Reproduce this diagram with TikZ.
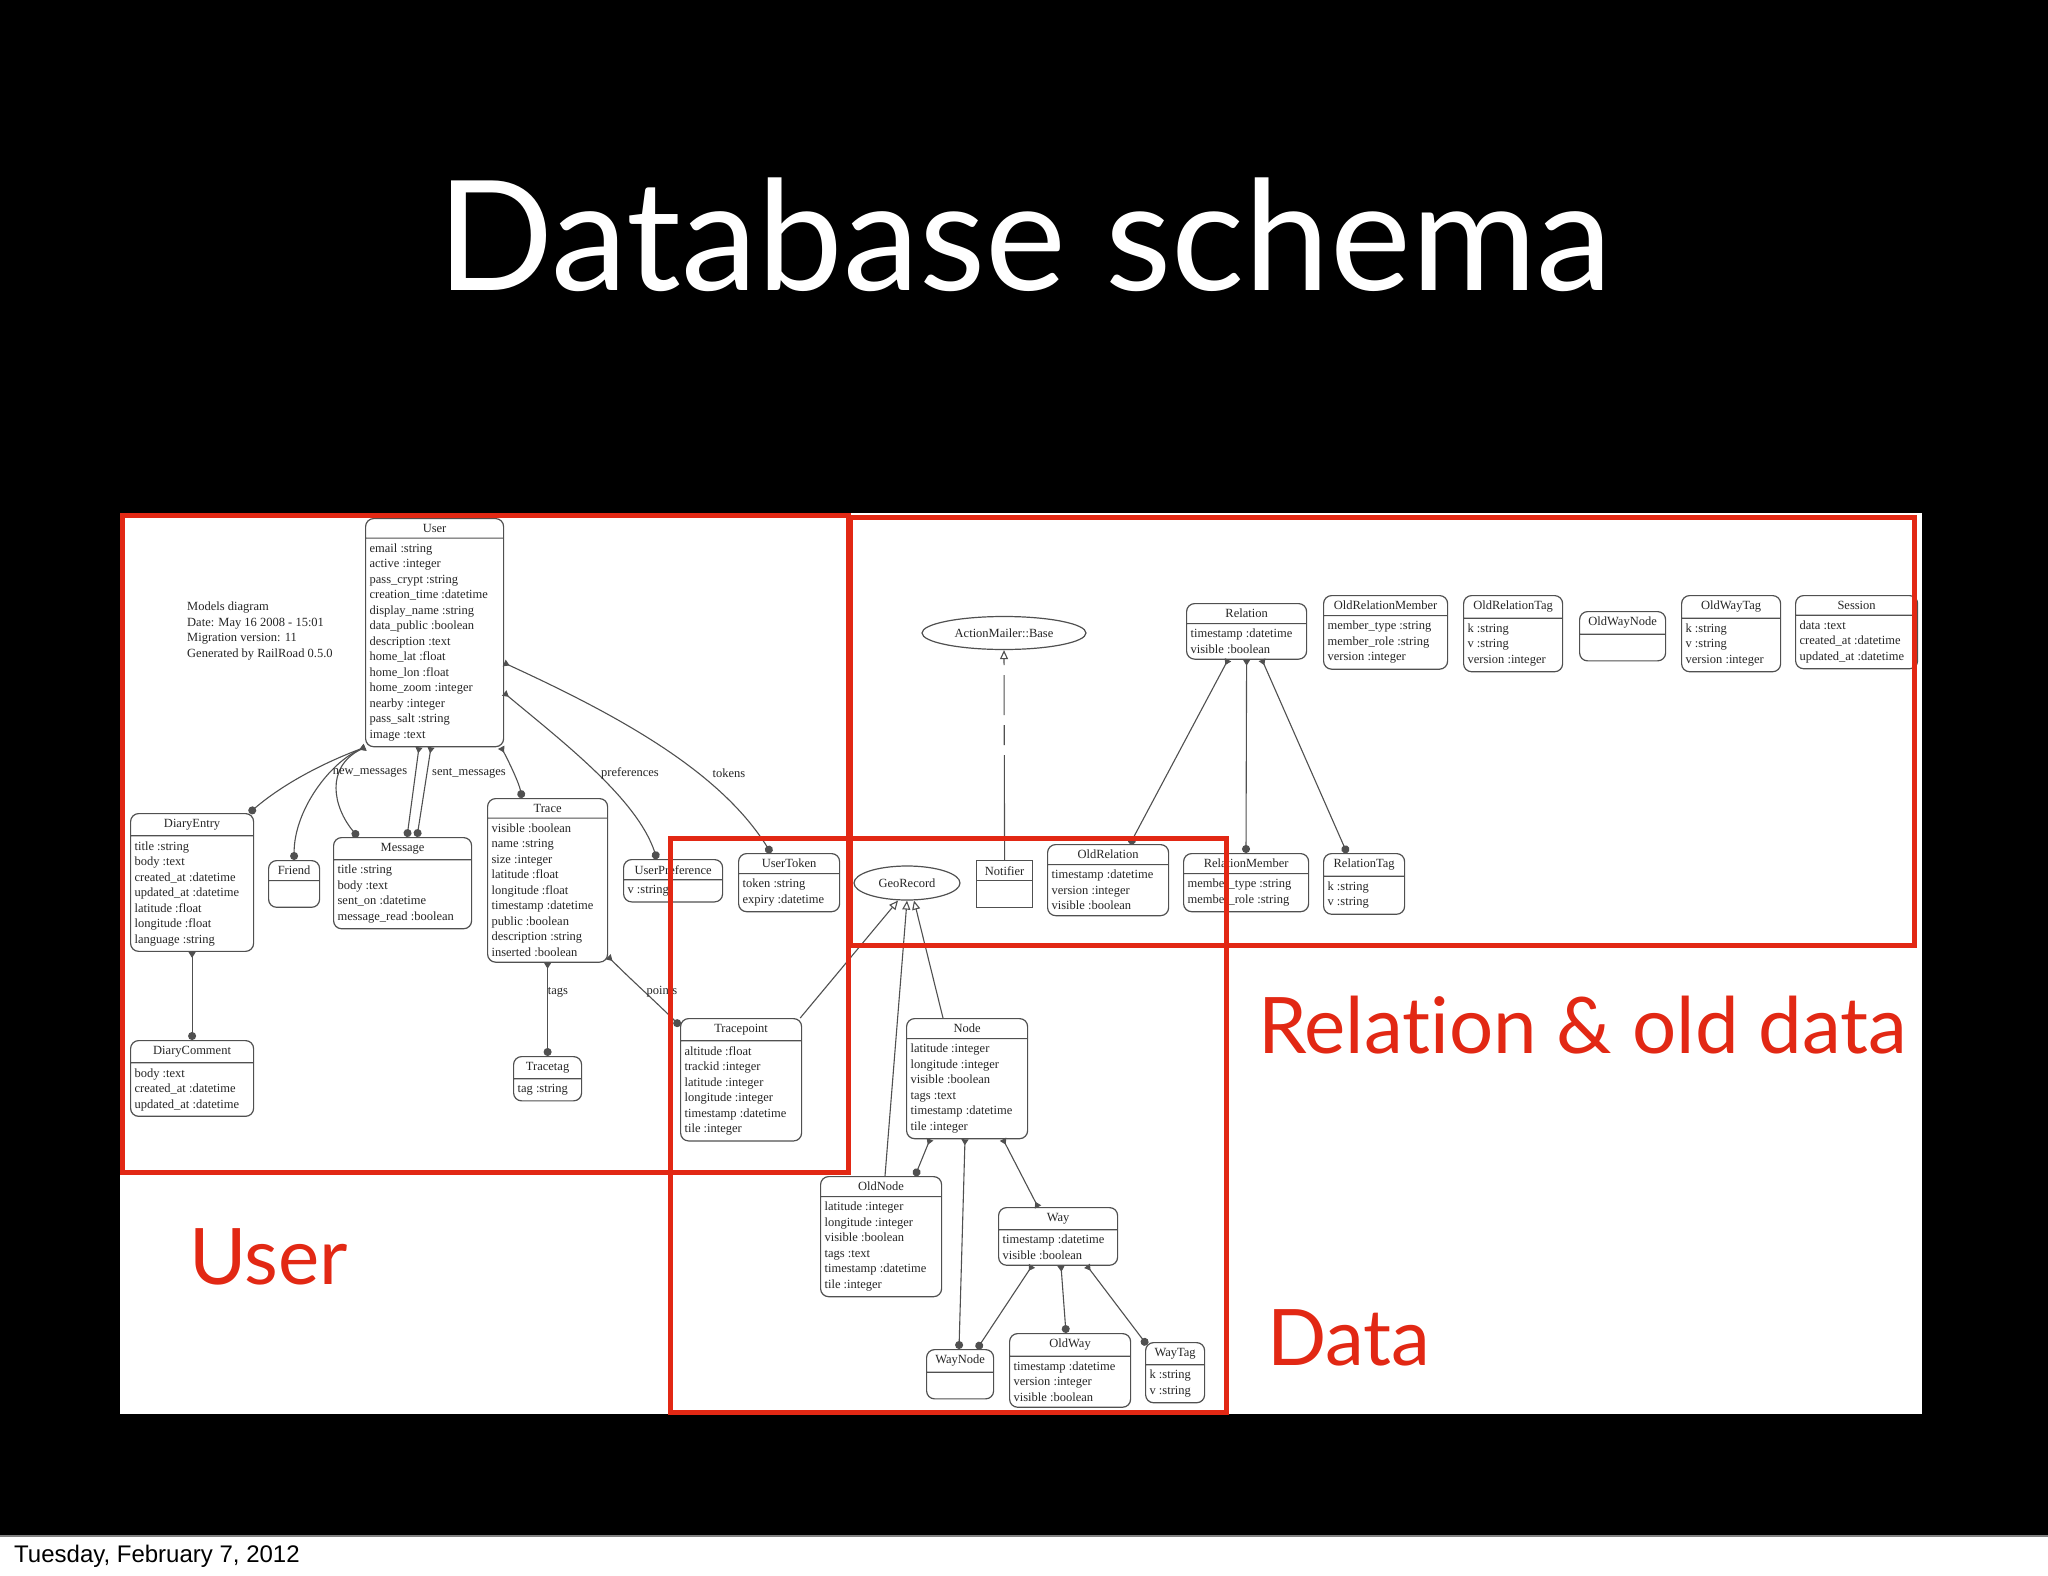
\documentclass[tikz,border=0pt]{standalone}
\usepackage{fontspec}
\setmainfont{Liberation Serif}
\newfontfamily\slidefont{Lato}[Ligatures={NoCommon}]
\newfontfamily\datefont{Liberation Sans}
\usetikzlibrary{shapes.multipart,shapes.geometric,arrows.meta}
\definecolor{slidered}{RGB}{226,40,20}
\definecolor{inkgray}{RGB}{80,80,80}

\begin{document}
\begin{tikzpicture}[x=1pt, y=-1pt,
  entity/.style={draw=inkgray, line width=1.2pt, rounded corners=8pt, rectangle split, rectangle split parts=2,
    rectangle split part align={center,left}, align=left, anchor=north west, inner xsep=4pt, inner ysep=5pt,
    font=\fontsize{12.5}{15.5}\selectfont, text=black!85},
  plainbox/.style={entity, rounded corners=0pt},
  base/.style={draw=inkgray, line width=1.2pt, ellipse, inner sep=0pt, font=\fontsize{12.5}{15.5}\selectfont, text=black!85},
  hasmany/.style={draw=inkgray, line width=1.1pt, arrows={Triangle[reversed,width=7pt,length=6pt]-Circle[length=8pt]}},
  both/.style={draw=inkgray, line width=1.1pt, arrows={Triangle[reversed,width=7pt,length=6pt]-Triangle[reversed,width=7pt,length=6pt]}},
  isa/.style={draw=inkgray, line width=1.1pt, arrows={-Triangle[open,width=8pt,length=9pt]}},
  lbl/.style={font=\fontsize{12.5}{15.5}\selectfont, text=black!85, inner sep=1pt},
  zone/.style={draw=slidered, line width=5pt},
  zonelabel/.style={font=\slidefont\fontsize{78}{84}\selectfont, text=slidered, anchor=base west, inner sep=0pt}
]
\useasboundingbox (0,0) rectangle (2048,1576);
\fill[black] (0,0) rectangle (2048,1536);
\fill[white] (0,1536) rectangle (2048,1576);
\draw[gray, line width=2pt] (0,1536) -- (2048,1536);
\fill[white] (120,513) rectangle (1922,1414);

\node[font=\slidefont\fontsize{153}{160}\selectfont, text=white, anchor=base] (title) at (1025,290) {Database schema};
\node[font=\datefont\fontsize{24}{28}\selectfont, anchor=base west, inner sep=0pt] (date) at (14,1562) {Tuesday, February 7, 2012};

% user models
\node[lbl, align=left, anchor=north west] (info) at (186,601) {Models diagram\\Date: May 16 2008 - 15:01\\Migration version: 11\\Generated by RailRoad 0.5.0};
\node[entity, minimum width=138pt] (user) at (365,518) {User\nodepart{second}email :string\\active :integer\\pass\_crypt :string\\creation\_time :datetime\\display\_name :string\\data\_public :boolean\\description :text\\home\_lat :float\\home\_lon :float\\home\_zoom :integer\\nearby :integer\\pass\_salt :string\\image :text};
\node[entity, minimum width=123pt] (diary) at (130,813) {DiaryEntry\nodepart{second}title :string\\body :text\\created\_at :datetime\\updated\_at :datetime\\latitude :float\\longitude :float\\language :string};
\node[entity, minimum width=51pt] (friend) at (268,860) {Friend\nodepart{second}\strut};
\node[entity, minimum width=138pt] (message) at (333,837) {Message\nodepart{second}title :string\\body :text\\sent\_on :datetime\\message\_read :boolean};
\node[entity, minimum width=120pt] (trace) at (487,798) {Trace\nodepart{second}visible :boolean\\name :string\\size :integer\\latitude :float\\longitude :float\\timestamp :datetime\\public :boolean\\description :string\\inserted :boolean};
\node[entity, minimum width=123pt] (comment) at (130,1040) {DiaryComment\nodepart{second}body :text\\created\_at :datetime\\updated\_at :datetime};
\node[entity, minimum width=68pt] (tracetag) at (513,1056) {Tracetag\nodepart{second}tag :string};
\node[entity, minimum width=99pt] (pref) at (623,859) {UserPreference\nodepart{second}v :string};
\node[entity, minimum width=101pt] (token) at (738,853) {UserToken\nodepart{second}token :string\\expiry :datetime};

% data models
\node[base, minimum width=106pt, minimum height=34pt] (geo) at (907,883) {GeoRecord};
\node[entity, minimum width=121pt] (tracepoint) at (680,1018) {Tracepoint\nodepart{second}altitude :float\\trackid :integer\\latitude :integer\\longitude :integer\\timestamp :datetime\\tile :integer};
\node[entity, minimum width=121pt] (node) at (906,1018) {Node\nodepart{second}latitude :integer\\longitude :integer\\visible :boolean\\tags :text\\timestamp :datetime\\tile :integer};
\node[entity, minimum width=121pt] (oldnode) at (820,1176) {OldNode\nodepart{second}latitude :integer\\longitude :integer\\visible :boolean\\tags :text\\timestamp :datetime\\tile :integer};
\node[entity, minimum width=119pt] (way) at (998,1207) {Way\nodepart{second}timestamp :datetime\\visible :boolean};
\node[entity, minimum width=67pt] (waynode) at (926,1349) {WayNode\nodepart{second}\strut};
\node[entity, minimum width=121pt] (oldway) at (1009,1333) {OldWay\nodepart{second}timestamp :datetime\\version :integer\\visible :boolean};
\node[entity, minimum width=59pt] (waytag) at (1145,1342) {WayTag\nodepart{second}k :string\\v :string};

% relation and old data
\node[base, minimum width=164pt, minimum height=33pt] (mailer) at (1004,633) {ActionMailer::Base};
\node[plainbox, minimum width=56pt] (notifier) at (976,860) {Notifier\nodepart{second}\strut};
\node[entity, minimum width=120pt] (relation) at (1186,603) {Relation\nodepart{second}timestamp :datetime\\visible :boolean};
\node[entity, minimum width=121pt] (oldrelation) at (1047,844) {OldRelation\nodepart{second}timestamp :datetime\\version :integer\\visible :boolean};
\node[entity, minimum width=125pt] (member) at (1183,853) {RelationMember\nodepart{second}member\_type :string\\member\_role :string};
\node[entity, minimum width=81pt] (reltag) at (1323,853) {RelationTag\nodepart{second}k :string\\v :string};
\node[entity, minimum width=124pt] (oldmember) at (1323,595) {OldRelationMember\nodepart{second}member\_type :string\\member\_role :string\\version :integer};
\node[entity, minimum width=99pt] (oldreltag) at (1463,595) {OldRelationTag\nodepart{second}k :string\\v :string\\version :integer};
\node[entity, minimum width=86pt] (oldwaynode) at (1579,611) {OldWayNode\nodepart{second}\strut};
\node[entity, minimum width=99pt] (oldwaytag) at (1681,595) {OldWayTag\nodepart{second}k :string\\v :string\\version :integer};
\node[entity, minimum width=122pt] (session) at (1795,595) {Session\nodepart{second}data :text\\created\_at :datetime\\updated\_at :datetime};

% links
\draw[hasmany] (user.south west) .. controls +(-40,15) and +(35,-30) .. ([xshift=-5pt]diary.north east);
\draw[hasmany] (user.south west) .. controls +(-35,15) and +(0,-50) .. (friend.north);
\draw[hasmany] (user.south west) .. controls +(-40,20) and +(-25,-30) .. ([xshift=25pt]message.north west);
\draw[hasmany] ([xshift=54pt]user.south west) -- ([xshift=74pt]message.north west);
\draw[hasmany] ([xshift=66pt]user.south west) -- ([xshift=84pt]message.north west);
\draw[hasmany] ([xshift=-3pt]user.south east) .. controls +(8,15) and +(-3,-15) .. ([xshift=35pt]trace.north west);
\draw[hasmany] ([yshift=-145pt]user.north east) .. controls +(120,55) and +(-50,-80) .. ([xshift=33pt]token.north west);
\draw[hasmany] ([yshift=-175pt]user.north east) .. controls +(60,50) and +(-20,-60) .. ([xshift=34pt]pref.north west);
\draw[hasmany] (diary.south) -- (comment.north);
\draw[hasmany] (trace.south) -- (tracetag.north);
\draw[hasmany] ([yshift=6pt]trace.south east) .. controls +(25,25) and +(-25,-25) .. ([yshift=-8pt]tracepoint.north west);
\node[lbl] (lnew) at (370,773) {new\_messages};
\node[lbl] (lsent) at (469,773) {sent\_messages};
\node[lbl] (lpref) at (630,773) {preferences};
\node[lbl] (ltok) at (729,773) {tokens};
\node[lbl] (ltags) at (558,992) {tags};
\node[lbl] (lpoints) at (662,992) {points};

\draw[isa] ([xshift=-2pt]tracepoint.north east) -- ([xshift=-9pt]geo.south);
\draw[isa] ([xshift=65pt]oldnode.north west) -- (geo.south);
\draw[isa] ([xshift=37pt]node.north west) -- ([xshift=7pt]geo.south);
\draw[hasmany] ([xshift=24pt]node.south west) -- ([xshift=95pt]oldnode.north west);
\draw[hasmany] ([xshift=59pt]node.south west) -- ([xshift=33pt]waynode.north west);
\draw[both] ([xshift=97pt]node.south west) -- ([xshift=40pt]way.north west);
\draw[hasmany] ([xshift=34pt]way.south west) -- ([xshift=51pt]waynode.north west);
\draw[hasmany] ([xshift=63pt]way.south west) -- ([xshift=57pt]oldway.north west);
\draw[hasmany] ([xshift=89pt]way.south west) -- ([xshift=2pt,yshift=-3pt]waytag.north west);

\draw[hasmany] ([xshift=42pt]relation.south west) -- ([xshift=83pt]oldrelation.north west);
\draw[hasmany] (relation.south) -- ([xshift=63pt]member.north west);
\draw[hasmany] ([xshift=76pt]relation.south west) -- ([xshift=24pt]reltag.north west);
\draw[isa, dash pattern=on 105pt off 10pt on 20pt off 10pt on 40pt off 10pt] (notifier.north) -- (mailer.south);

% groups
\draw[zone] (122,515) rectangle (848,1172);
\draw[zone] (850,517) rectangle (1914,945);
\draw[zone] (670,838) rectangle (1226,1412);
\node[zonelabel] (userlabel) at (189,1284) {User};
\node[zonelabel] (rellabel) at (1258,1053) {Relation \& old data};
\node[zonelabel] (datalabel) at (1267,1365) {Data};
\end{tikzpicture}
\end{document}
